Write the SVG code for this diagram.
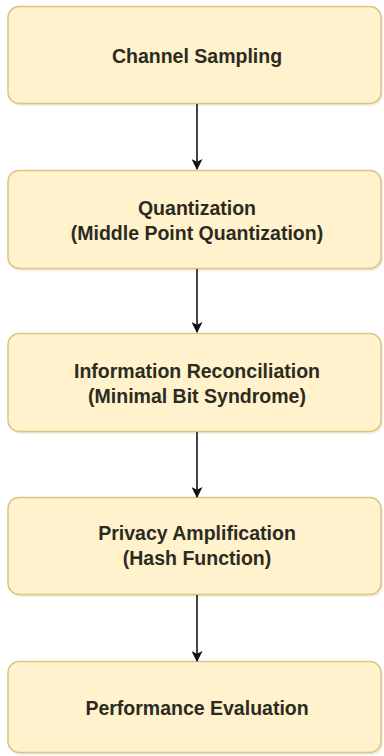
<svg xmlns="http://www.w3.org/2000/svg" width="384" height="756" viewBox="0 0 384 756">
  <defs>
    <style>
      .box { fill: #fff2cc; stroke: #dcc483; stroke-width: 1.5; }
      .shadow { fill: #e9e2cf; opacity: 0.6; }
      .lbl { font-family: "Liberation Sans", Arial, sans-serif; font-weight: bold; font-size: 19.5px; fill: #2b2b22; text-anchor: middle; }
      .edge { stroke: #444444; stroke-width: 2; fill: none; marker-end: url(#arrow); }
    </style>
    <marker id="arrow" viewBox="0 0 10 10" refX="9" refY="5" markerWidth="5.5" markerHeight="5.5" orient="auto" markerUnits="strokeWidth">
      <path d="M0,0 L10,5 L0,10 L2.5,5 Z" fill="#111111"/>
    </marker>
  </defs>
  <rect width="384" height="756" fill="#ffffff"/>

  <g id="node-channel-sampling">
    <rect class="shadow" x="10" y="9" width="373" height="97" rx="11"/>
    <rect class="box" x="8" y="6.5" width="373" height="97" rx="11"/>
    <text class="lbl" x="197" y="63">Channel Sampling</text>
  </g>

  <g id="node-quantization">
    <rect class="shadow" x="10" y="173" width="373" height="98" rx="11"/>
    <rect class="box" x="8" y="170.5" width="373" height="98" rx="11"/>
    <text class="lbl" x="197" y="215">Quantization</text>
    <text class="lbl" x="197" y="240">(Middle Point Quantization)</text>
  </g>

  <g id="node-information-reconciliation">
    <rect class="shadow" x="10" y="336" width="373" height="98" rx="11"/>
    <rect class="box" x="8" y="333.5" width="373" height="98" rx="11"/>
    <text class="lbl" x="197" y="378">Information Reconciliation</text>
    <text class="lbl" x="197" y="403">(Minimal Bit Syndrome)</text>
  </g>

  <g id="node-privacy-amplification">
    <rect class="shadow" x="10" y="500" width="373" height="97" rx="11"/>
    <rect class="box" x="8" y="497.5" width="373" height="97" rx="11"/>
    <text class="lbl" x="197" y="540">Privacy Amplification</text>
    <text class="lbl" x="197" y="565">(Hash Function)</text>
  </g>

  <g id="node-performance-evaluation">
    <rect class="shadow" x="10" y="664" width="373" height="91" rx="11"/>
    <rect class="box" x="8" y="661.5" width="373" height="91" rx="11"/>
    <text class="lbl" x="197" y="715">Performance Evaluation</text>
  </g>

  <g id="connectors">
    <line class="edge" x1="197" y1="104" x2="197" y2="169"/>
    <line class="edge" x1="197" y1="269" x2="197" y2="332"/>
    <line class="edge" x1="197" y1="432" x2="197" y2="497"/>
    <line class="edge" x1="197" y1="595" x2="197" y2="661"/>
  </g>
</svg>
